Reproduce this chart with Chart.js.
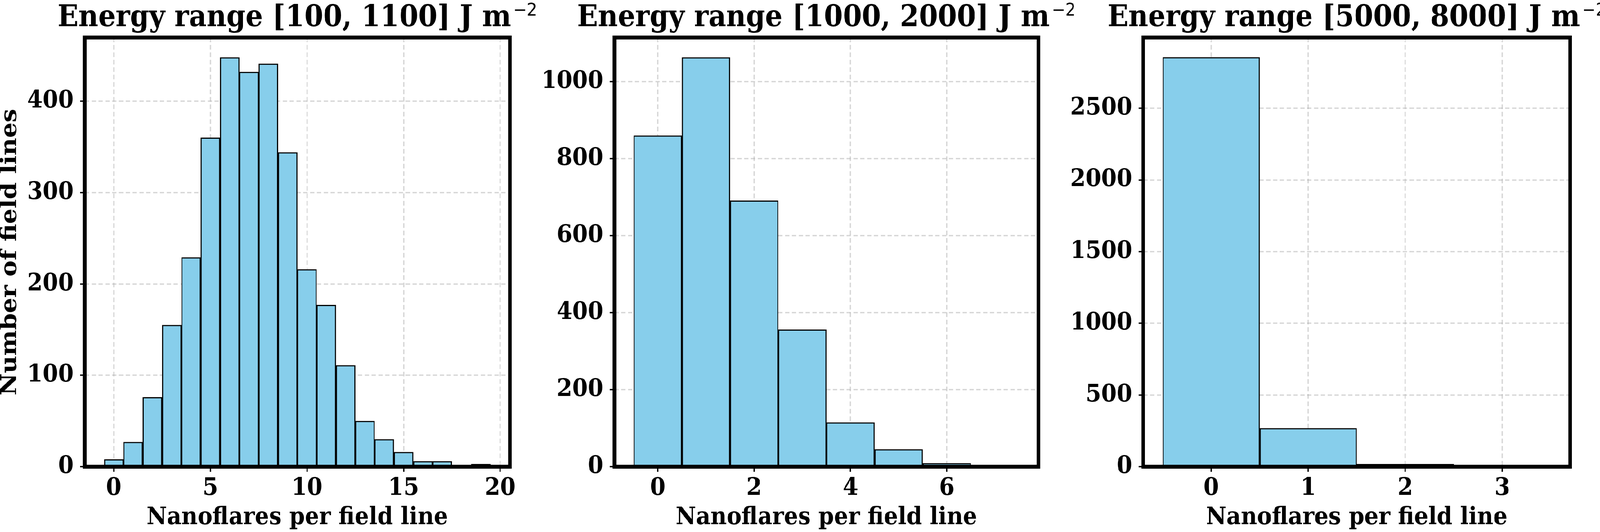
<!DOCTYPE html>
<html>
<head>
<meta charset="utf-8">
<script src="https://cdn.jsdelivr.net/npm/chart.js@4"></script>
<style>
  html, body { margin: 0; padding: 0; background: #fff; overflow: hidden; }
  #wrap { position: relative; width: 4453px; height: 1361px; transform-origin: 0 0; }
  canvas { position: absolute; top: 0; }
</style>
</head>
<body>
<div id="wrap">
  <canvas id="c1" width="1600" height="1361" style="left:0px"></canvas>
  <canvas id="c2" width="1550" height="1361" style="left:1500px"></canvas>
  <canvas id="c3" width="1503" height="1361" style="left:2950px"></canvas>
</div>
<script>
// histogram counts, one bin per integer number of nanoflares
const bins1 = [0, 1, 2, 3, 4, 5, 6, 7, 8, 9, 10, 11, 12, 13, 14, 15, 16, 17, 18, 19];
const counts1 = [8, 27, 76, 155, 229, 360, 448, 432, 441, 344, 216, 177, 111, 50, 30, 16, 6, 6, 0, 3];

const bins2 = [0, 1, 2, 3, 4, 5, 6, 7];
const counts2 = [860, 1063, 691, 356, 115, 45, 9, 1];

const bins3 = [0, 1, 2, 3];
const counts3 = [2855, 268, 18, 2];

const titles = [
    "Energy range [100, 1100] J m",
    "Energy range [1000, 2000] J m",
    "Energy range [5000, 8000] J m"
];
const titleExp = "\u22122";

const xTicks1 = [0, 5, 10, 15, 20];
const xTicks2 = [0, 2, 4, 6];
const xTicks3 = [0, 1, 2, 3];

const yTicks1 = [0, 100, 200, 300, 400];
const yTicks2 = [0, 200, 400, 600, 800, 1000];
const yTicks3 = [0, 500, 1000, 1500, 2000, 2500];

const xLimits1 = [-1.5, 20.5];
const xLimits2 = [-0.9, 7.9];
const xLimits3 = [-0.7, 3.7];

const yMax = [469.7, 1114.7, 2993];

const xLabel = "Nanoflares per field line";
const yLabel = "Number of field lines";

// the window may be narrower than the 4453x1361 design, so stretch it onto the viewport
const sx = window.innerWidth / 4453;
const sy = window.innerHeight / 1361;
document.getElementById("wrap").style.transform = "scale(" + sx + "," + sy + ")";

Chart.defaults.color = "#000";
Chart.defaults.font.family = "'DejaVu Serif', serif";
Chart.defaults.font.weight = "bold";

const frame = {
    id: "frame",
    afterDraw(chart) {
        const a = chart.chartArea;
        const ctx = chart.ctx;
        ctx.save();
        ctx.strokeStyle = "#000";
        ctx.lineWidth = 10;
        ctx.lineJoin = "miter";
        ctx.strokeRect(a.left, a.top, a.right - a.left, a.bottom - a.top);
        ctx.restore();
    }
};

// title with a mathtext-like superscript
const panelTitle = {
    id: "panelTitle",
    afterDraw(chart, args, opts) {
        const a = chart.chartArea;
        const ctx = chart.ctx;
        ctx.save();
        ctx.fillStyle = "#000";
        ctx.textBaseline = "alphabetic";
        ctx.font = "bold 76px 'DejaVu Serif'";
        const w1 = ctx.measureText(opts.text).width;
        ctx.font = "45px 'DejaVu Sans'";
        const w2 = ctx.measureText(opts.exp).width;
        const x0 = (a.left + a.right) / 2 - (w1 + 6 + w2) / 2;
        ctx.font = "bold 76px 'DejaVu Serif'";
        ctx.fillText(opts.text, x0, 67);
        ctx.font = "45px 'DejaVu Sans'";
        ctx.fillText(opts.exp, x0 + w1 + 6, 40);
        ctx.restore();
    }
};

const gridStyle = {
    color: "rgba(176,176,176,0.5)",
    lineWidth: 3.5,
    tickColor: "#000",
    tickWidth: 3.5,
    tickLength: 13,
    offset: false
};

function makePanel(id, bins, counts, title, xTicks, yTicks, xLimits, top, yWidth, padRight, showYLabel) {
    const ctx = document.getElementById(id).getContext("2d");
    return new Chart(ctx, {
        type: "bar",
        data: {
            datasets: [{
                data: bins.map((b, i) => ({ x: b, y: counts[i] })),
                backgroundColor: "#87CEEB",
                borderColor: "#000",
                borderWidth: 3,
                barPercentage: 1,
                categoryPercentage: 1
            }]
        },
        options: {
            responsive: false,
            animation: false,
            devicePixelRatio: 1,
            layout: { padding: { left: 0, right: padRight, top: 96, bottom: 0 } },
            plugins: {
                legend: { display: false },
                tooltip: { enabled: false },
                title: { display: false },
                panelTitle: { text: title, exp: titleExp }
            },
            scales: {
                x: {
                    type: "linear",
                    min: xLimits[0],
                    max: xLimits[1],
                    offset: false,
                    z: 1,
                    grid: gridStyle,
                    border: { display: false, dash: [12, 7] },
                    afterBuildTicks: (axis) => { axis.ticks = xTicks.map(v => ({ value: v })); },
                    afterFit: (scale) => { scale.height = 167; },
                    ticks: {
                        font: { size: 62 },
                        padding: 6,
                        maxRotation: 0,
                        callback: (v) => String(v)
                    },
                    title: {
                        display: true,
                        text: xLabel,
                        font: { size: 62, lineHeight: 1.15 },
                        padding: 0
                    }
                },
                y: {
                    min: 0,
                    max: top,
                    z: 1,
                    grid: gridStyle,
                    border: { display: false, dash: [12, 7] },
                    afterBuildTicks: (axis) => { axis.ticks = yTicks.map(v => ({ value: v })); },
                    afterFit: (scale) => { scale.width = yWidth; },
                    ticks: {
                        font: { size: 62 },
                        padding: 18,
                        callback: (v) => String(v)
                    },
                    title: {
                        display: showYLabel,
                        text: yLabel,
                        font: { size: 62, lineHeight: 0.94 },
                        padding: 0
                    }
                }
            }
        },
        plugins: [frame, panelTitle]
    });
}

makePanel("c1", bins1, counts1, titles[0], xTicks1, yTicks1, xLimits1, yMax[0], 236, 181, true);
makePanel("c2", bins2, counts2, titles[1], xTicks2, yTicks2, xLimits2, yMax[1], 210, 160, false);
makePanel("c3", bins3, counts3, titles[2], xTicks3, yTicks3, xLimits3, yMax[2], 232, 83, false);
</script>
</body>
</html>
